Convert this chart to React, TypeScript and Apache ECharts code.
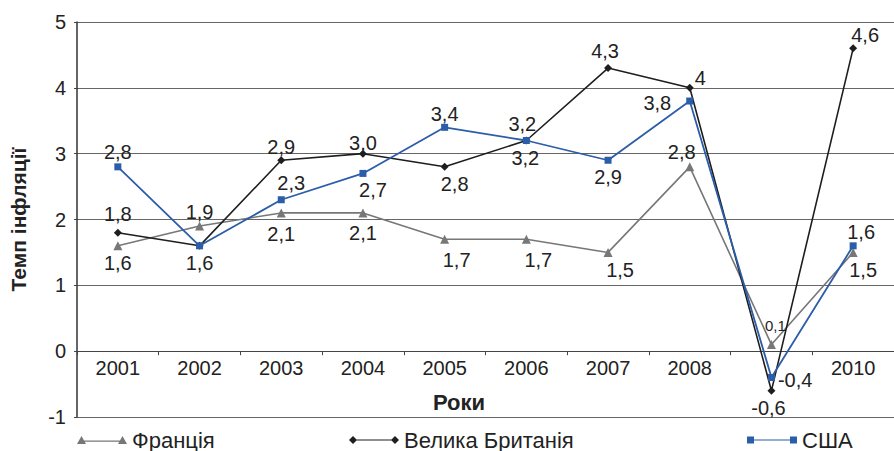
import React, { useEffect, useRef } from 'react';
import * as echarts from 'echarts';

const years = ['2001', '2002', '2003', '2004', '2005', '2006', '2007', '2008', '2009', '2010'];
const france = [1.6, 1.9, 2.1, 2.1, 1.7, 1.7, 1.5, 2.8, 0.1, 1.5];
const uk = [1.8, 1.6, 2.9, 3.0, 2.8, 3.2, 4.3, 4.0, -0.6, 4.6];
const usa = [2.8, 1.6, 2.3, 2.7, 3.4, 3.2, 2.9, 3.8, -0.4, 1.6];
const hiddenYearLabels = ['2009'];
const seriesNames = ['Франція', 'Велика Британія', 'США'];
const yMin = -1;
const yMax = 5;
const yStep = 1;

// label placement per point: [position, dx, dy, fontSize?, textOverride?] or null
type Place = [string, number, number, number?, string?] | null;
const francePlace: Place[] = [
  ['bottom', 0, 0], ['top', 0, 3], ['bottom', 0, 4], ['bottom', 0, 3], ['bottom', 12, 3],
  ['bottom', 12, 3], ['bottom', 12, 0], ['top', -8, 3], ['top', 4, -4, 15], ['bottom', 10, 0],
];
const ukPlace: Place[] = [
  ['top', 0, -2], ['bottom', 0, 0], ['top', 0, 4], ['top', 0, 6], ['bottom', 10, 0],
  ['bottom', -1, 0], ['top', -3, 0], ['right', -2, -10, 20, '4'], ['bottom', -3, 0], ['top', 12, 4],
];
const usaPlace: Place[] = [
  ['top', 0, 2], null, ['top', 10, 0], ['bottom', 10, 0], ['top', 0, 3],
  ['top', -4, 0], ['bottom', 0, 0], ['left', -12, 2], ['right', 0, 2], ['top', 8, 3],
];

const FONT = '"Liberation Sans", Arial, sans-serif';
const TEXT = '#222';
const GRID_TOP = 22;
const GRID_BOTTOM = 34;
const CHART_H = 451;

const fmt = (v: number) => v.toFixed(1).replace('.', ',');

function buildData(values: number[], places: Place[]) {
  return values.map((v, i) => {
    const p = places[i];
    if (!p) return { value: v, label: { show: false } };
    const [pos, dx, dy, fs, txt] = p;
    return {
      value: v,
      label: {
        show: true,
        position: pos,
        offset: [dx, dy],
        fontSize: fs || 20,
        formatter: txt ? txt : fmt(v),
      },
    };
  });
}

const icons = {
  tri: 'path://M0,10L4.5,2L9,10Z M4.5,6.6L45.5,6.6L45.5,7.8L4.5,7.8Z M41,10L45.5,2L50,10Z',
  dia: 'path://M0,6L4,2L8,6L4,10Z M4,5.4L46,5.4L46,6.6L4,6.6Z M42,6L46,2L50,6L46,10Z',
  sq: 'path://M0,2.5H7V9.5H0Z M7,5.4H43V6.6H7Z M43,2.5H50V9.5H43Z',
};

export default function App() {
  const ref = useRef<HTMLDivElement>(null);
  useEffect(() => {
    if (!ref.current) return;
    const chart = echarts.init(ref.current, null, { renderer: 'svg' });
    const colors = ['#777777', '#1e1e1e', '#2b5da8'];
    const plotH = CHART_H - GRID_TOP - GRID_BOTTOM;
    const zeroOffset = -(plotH * (0 - yMin)) / (yMax - yMin);
    const legendBase = (name: string, left: number, icon: string) => ({
      data: [{ name, icon }],
      left,
      top: 428,
      padding: 0,
      orient: 'horizontal',
      itemWidth: 50,
      itemHeight: 8,
      itemStyle: { borderWidth: 0 },
      textStyle: { fontFamily: FONT, fontSize: 22, lineHeight: 24, color: TEXT },
      selectedMode: false,
    });
    const labelCommon = {
      show: true,
      distance: 3,
      fontFamily: FONT,
      fontSize: 20,
      color: TEXT,
    };
    chart.setOption({
      animation: false,
      backgroundColor: '#ffffff',
      textStyle: { fontFamily: FONT },
      grid: { left: 64, right: 0, top: GRID_TOP, bottom: GRID_BOTTOM, containLabel: false },
      legend: [
        legendBase(seriesNames[0], 77, icons.tri),
        legendBase(seriesNames[1], 349, icons.dia),
        legendBase(seriesNames[2], 747, icons.sq),
      ],
      xAxis: {
        type: 'category',
        data: years,
        boundaryGap: true,
        offset: zeroOffset,
        axisLine: { show: true, onZero: false, lineStyle: { color: '#444', width: 1 } },
        axisTick: { show: true, alignWithLabel: false, interval: 0, length: 4, lineStyle: { color: '#444' } },
        axisLabel: {
          interval: 0,
          margin: 7,
          fontFamily: FONT,
          fontSize: 20,
          color: TEXT,
          formatter: (v: string) => (hiddenYearLabels.includes(v) ? '' : v),
        },
        splitLine: { show: false },
      },
      yAxis: {
        type: 'value',
        min: yMin,
        max: yMax,
        interval: yStep,
        name: 'Темп інфляції',
        nameLocation: 'middle',
        nameGap: 48,
        nameTextStyle: { fontFamily: FONT, fontSize: 21, fontWeight: 'bold', color: TEXT },
        axisLine: { show: true, lineStyle: { color: '#333', width: 1.5 } },
        axisTick: { show: true, length: 3, lineStyle: { color: '#444' } },
        axisLabel: { margin: 11, fontFamily: FONT, fontSize: 20, color: TEXT },
        splitLine: { show: true, lineStyle: { color: '#666', width: 1 } },
      },
      graphic: [
        {
          type: 'text',
          x: 459,
          y: 402,
          style: {
            text: 'Роки',
            fontFamily: FONT,
            fontSize: 22,
            fontWeight: 'bold',
            fill: TEXT,
            align: 'center',
            verticalAlign: 'middle',
          },
        },
      ],
      series: [
        {
          name: seriesNames[0],
          type: 'line',
          data: buildData(france, francePlace),
          symbol: 'triangle',
          symbolSize: 9,
          color: colors[0],
          lineStyle: { color: colors[0], width: 1.6 },
          itemStyle: { color: colors[0], borderWidth: 0 },
          label: labelCommon,
          z: 2,
        },
        {
          name: seriesNames[1],
          type: 'line',
          data: buildData(uk, ukPlace),
          symbol: 'diamond',
          symbolSize: 8,
          color: colors[1],
          lineStyle: { color: colors[1], width: 1.6 },
          itemStyle: { color: colors[1], borderWidth: 0 },
          label: labelCommon,
          z: 3,
        },
        {
          name: seriesNames[2],
          type: 'line',
          data: buildData(usa, usaPlace),
          symbol: 'rect',
          symbolSize: 7,
          color: colors[2],
          lineStyle: { color: colors[2], width: 1.8 },
          itemStyle: { color: colors[2], borderWidth: 0 },
          label: labelCommon,
          z: 4,
        },
      ],
    });
    return () => chart.dispose();
  }, []);
  return <div ref={ref} style={{ width: 894, height: 451, position: 'absolute', left: 0, top: 0, background: '#fff' }} />;
}
